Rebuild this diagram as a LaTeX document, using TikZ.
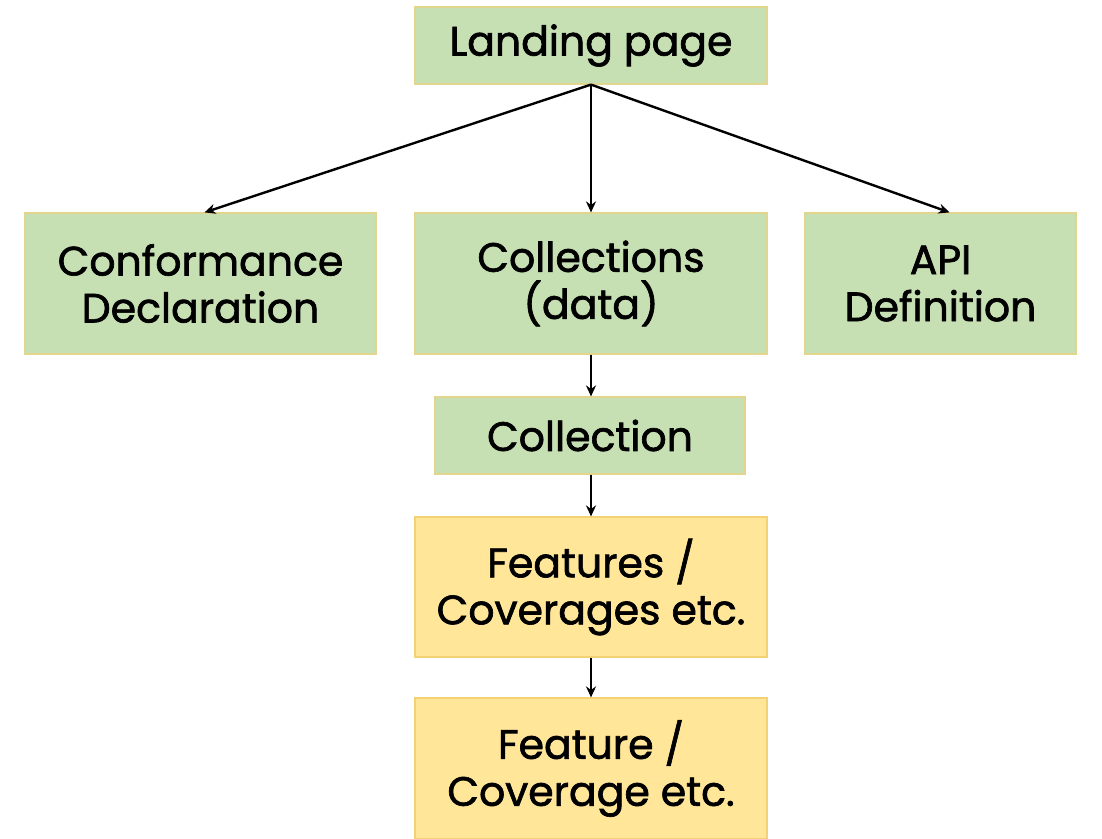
\documentclass[tikz,border=0pt]{standalone}
\usepackage{fontspec}
\setmainfont{Poppins}[FakeBold=1.6]
\usetikzlibrary{arrows.meta}
\definecolor{gfill}{HTML}{C6E0B4}
\definecolor{gdraw}{HTML}{E2D58E}
\definecolor{yfill}{HTML}{FFE699}
\definecolor{ydraw}{HTML}{F3D275}
\tikzset{
  gbox/.style={draw=gdraw, fill=gfill, line width=1.2pt, align=center, inner sep=0pt,
    font=\fontsize{41}{47}\selectfont},
  ybox/.style={draw=ydraw, fill=yfill, line width=1.2pt, align=center, inner sep=0pt,
    font=\fontsize{41}{47}\selectfont},
  conn/.style={line width=2.4pt, -{Stealth[length=11pt,width=10pt]}}
}
\begin{document}
\begin{tikzpicture}[x=1pt,y=-1pt]
\useasboundingbox (0,0) rectangle (1102,838);
\node[gbox, minimum width=352pt, minimum height=77pt] (lp) at (591,45.5) {Landing page};
\node[gbox, minimum width=351pt, minimum height=141pt] (cd) at (200.5,283.5) {Conformance\\Declaration};
\node[gbox, minimum width=352pt, minimum height=141pt] (cs) at (591,283.5) {Collections\\(data)};
\node[gbox, minimum width=271pt, minimum height=141pt] (api) at (940.5,283.5) {API\\Definition};
\node[gbox, minimum width=310pt, minimum height=77pt] (c) at (590,435.5) {Collection};
\node[ybox, minimum width=352pt, minimum height=140pt] (fs) at (591,587) {Features /\\Coverages etc.};
\node[ybox, minimum width=352pt, minimum height=141pt] (f) at (591,768.5) {Feature /\\Coverage etc.};
\draw[conn] (lp.south) -- ([xshift=4pt]cd.north);
\draw[conn] (lp.south) -- (cs.north);
\draw[conn] (lp.south) -- ([xshift=9pt]api.north);
\draw[conn] (cs.south) -- (c.north -| cs.south);
\draw[conn] (c.south -| cs.south) -- (fs.north);
\draw[conn] (fs.south) -- (f.north);
\end{tikzpicture}
\end{document}
